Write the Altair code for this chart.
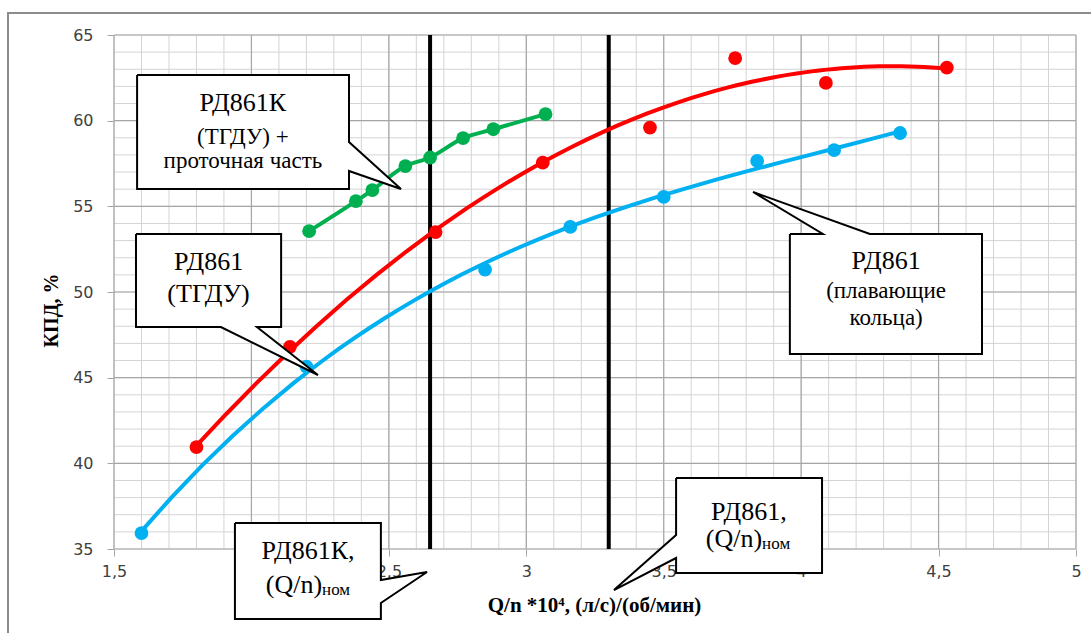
import altair as alt
import pandas as pd

# ---------------- data ----------------
green_x = [2.21, 2.38, 2.44, 2.56, 2.65, 2.77, 2.88, 3.07]
green_y = [53.55, 55.3, 55.95, 57.35, 57.85, 58.98, 59.5, 60.38]

red_x = [1.80, 2.14, 2.67, 3.06, 3.45, 3.76, 4.09, 4.53]
red_y = [40.95, 46.8, 53.5, 57.55, 59.6, 63.65, 62.2, 63.1]

blue_x = [1.60, 2.20, 2.85, 3.16, 3.50, 3.84, 4.12, 4.36]
blue_y = [35.93, 45.65, 51.3, 53.8, 55.55, 57.65, 58.28, 59.28]

nominal_x = [2.65, 3.30]          # (Q/n)ном of РД861К and РД861

x_ticks = [1.5, 2, 2.5, 3, 3.5, 4, 4.5, 5]
y_ticks = [35, 40, 45, 50, 55, 60, 65]
x_minor = [round(1.5 + 0.1 * i, 1) for i in range(36)]
y_minor = list(range(35, 66))

# callout outlines (speech bubbles), in data units
poly_id = [1]*8 + [2]*8 + [3]*8 + [4]*8 + [5]*8
poly_x = [1.584, 2.355, 2.355, 2.544, 2.355, 2.355, 1.584, 1.584,
          1.580, 2.108, 2.108, 2.020, 2.242, 1.889, 1.580, 1.580,
          3.959, 4.079, 3.825, 4.250, 4.658, 4.658, 3.959, 3.959,
          1.940, 2.471, 2.471, 2.639, 2.471, 2.471, 1.940, 1.940,
          3.545, 4.076, 4.076, 3.545, 3.545, 3.319, 3.545, 3.545]
poly_y = [62.665, 62.665, 58.755, 56.012, 57.062, 56.012, 56.012, 62.665,
          53.385, 53.385, 47.957, 47.957, 45.155, 47.957, 47.957, 53.385,
          53.385, 53.385, 55.836, 53.385, 53.385, 46.381, 46.381, 53.385,
          36.517, 36.517, 33.190, 33.657, 31.848, 30.914, 30.914, 36.517,
          39.144, 39.144, 33.599, 33.599, 34.474, 32.606, 35.817, 39.144]
poly_k = list(range(8)) * 5

# callout texts
txt = ["РД861К", "(ТГДУ) +", "проточная часть",
       "РД861", "(ТГДУ)",
       "РД861", "(плавающие", "кольца)",
       "РД861К,", "РД861,"]
txt_x = [1.969, 1.969, 1.969, 1.844, 1.844, 4.309, 4.309, 4.309, 2.206, 3.810]
txt_y = [60.56, 58.64, 57.24, 51.28, 49.43, 51.32, 49.67, 48.07, 34.40, 36.68]
txt_fs = [26, 23, 23, 26, 26, 26, 23, 23, 26, 26]

qn_txt = ["(Q/n)", "(Q/n)"]
qn_x = [2.257, 3.858]
qn_y = [32.43, 35.12]
sub_txt = ["ном", "ном"]
sub_y = [32.33, 35.02]

# ---------------- chart ----------------
xs = alt.Scale(domain=[1.5, 5], nice=False, zero=False)
ys = alt.Scale(domain=[35, 65], nice=False, zero=False)
SERIF = "Liberation Serif"
SANS = "DejaVu Sans"

AX = alt.Axis(
    values=x_ticks, labelExpr="replace(toString(datum.value), '.', ',')",
    grid=False, domain=False, ticks=True, tickSize=7, tickColor="#a6a6a6",
    labelFont=SANS, labelFontSize=16, labelColor="#404040", labelPadding=7,
    labelFlush=False, labelOverlap=False,
    title="Q/n *10⁴, (л/с)/(об/мин)", titleFont=SERIF, titleFontSize=21,
    titleFontWeight="bold", titleColor="black", titleX=480, titleY=62,
    titleAlign="center", titleBaseline="alphabetic")
AY = alt.Axis(
    values=y_ticks, grid=False, domain=False, ticks=True, tickSize=7,
    tickColor="#a6a6a6", labelFont=SANS, labelFontSize=16,
    labelColor="#404040", labelPadding=14, labelOverlap=False,
    title="КПД, %", titleFont=SERIF, titleFontSize=20,
    titleFontWeight="bold", titleColor="black", titleAngle=270,
    titleX=-57, titleY=275, titleAlign="center",
    titleBaseline="alphabetic")


def X(f):
    return alt.X(f, type="quantitative", scale=xs, axis=AX)


def Y(f):
    return alt.Y(f, type="quantitative", scale=ys, axis=AY)


minor_v = alt.Chart(pd.DataFrame({"x": x_minor})).mark_rule(
    color="#d4d4d4", strokeWidth=1).encode(x=X("x"))
minor_h = alt.Chart(pd.DataFrame({"y": y_minor})).mark_rule(
    color="#d4d4d4", strokeWidth=1).encode(y=Y("y"))
major_v = alt.Chart(pd.DataFrame({"x": x_ticks})).mark_rule(
    color="#a6a6a6", strokeWidth=1.2).encode(x=X("x"))
major_h = alt.Chart(pd.DataFrame({"y": y_ticks})).mark_rule(
    color="#a6a6a6", strokeWidth=1.2).encode(y=Y("y"))

nominal = alt.Chart(pd.DataFrame({"x": nominal_x})).mark_rule(
    color="black", strokeWidth=4).encode(x=X("x"))

green_df = pd.DataFrame({"x": green_x, "y": green_y})
red_df = pd.DataFrame({"x": red_x, "y": red_y})
blue_df = pd.DataFrame({"x": blue_x, "y": blue_y})

GREEN, RED, BLUE = "#00b050", "#ff0000", "#00b0f0"
PT = 190

green_line = alt.Chart(green_df).mark_line(
    color=GREEN, strokeWidth=4, interpolate="monotone").encode(x=X("x"), y=Y("y"))
green_pts = alt.Chart(green_df).mark_circle(
    color=GREEN, size=PT, opacity=1).encode(x=X("x"), y=Y("y"))

red_line = alt.Chart(red_df).transform_regression(
    "x", "y", method="poly", order=2).mark_line(
    color=RED, strokeWidth=4).encode(x=X("x"), y=Y("y"))
red_pts = alt.Chart(red_df).mark_circle(
    color=RED, size=PT, opacity=1).encode(x=X("x"), y=Y("y"))

blue_line = alt.Chart(blue_df).transform_regression(
    "x", "y", method="poly", order=3).mark_line(
    color=BLUE, strokeWidth=4).encode(x=X("x"), y=Y("y"))
blue_pts = alt.Chart(blue_df).mark_circle(
    color=BLUE, size=PT, opacity=1).encode(x=X("x"), y=Y("y"))

poly_df = pd.DataFrame({"id": poly_id, "k": poly_k, "x": poly_x, "y": poly_y})
callouts = alt.Chart(poly_df).mark_line(
    fill="white", stroke="black", strokeWidth=2, interpolate="linear",
    clip=False, strokeJoin="miter").encode(
    x=X("x"), y=Y("y"), detail="id:N", order="k:Q")

txt_df = pd.DataFrame({"t": txt, "x": txt_x, "y": txt_y, "fs": txt_fs})
texts = alt.Chart(txt_df).mark_text(
    font=SERIF, color="black", align="center", baseline="alphabetic").encode(
    x=X("x"), y=Y("y"), text="t:N", size=alt.Size("fs:Q", scale=None, legend=None))

qn_df = pd.DataFrame({"t": qn_txt, "x": qn_x, "y": qn_y})
qn = alt.Chart(qn_df).mark_text(
    font=SERIF, color="black", align="right", baseline="alphabetic", fontSize=26).encode(
    x=X("x"), y=Y("y"), text="t:N")
sub_df = pd.DataFrame({"t": sub_txt, "x": qn_x, "y": sub_y})
sub = alt.Chart(sub_df).mark_text(
    font=SERIF, color="black", align="left", baseline="alphabetic", fontSize=17).encode(
    x=X("x"), y=Y("y"), text="t:N")

frame = alt.Chart(pd.DataFrame({"a": [0]})).mark_rect(
    fillOpacity=0, stroke="#8c8c8c", strokeWidth=2).encode(
    x=alt.value(-106), x2=alt.value(1000), y=alt.value(-22), y2=alt.value(640))

chart = alt.layer(
    frame, minor_v, minor_h, major_v, major_h, nominal,
    green_line, red_line, blue_line, green_pts, red_pts, blue_pts,
    callouts, texts, qn, sub
).properties(
    width=962, height=514,
    autosize=alt.AutoSizeParams(type="none"),
    padding={"left": 114, "top": 35, "right": 15, "bottom": 84},
    background="white",
).configure_view(stroke=None)

chart.save("out.html", embed_options={"renderer": "svg", "actions": False})
